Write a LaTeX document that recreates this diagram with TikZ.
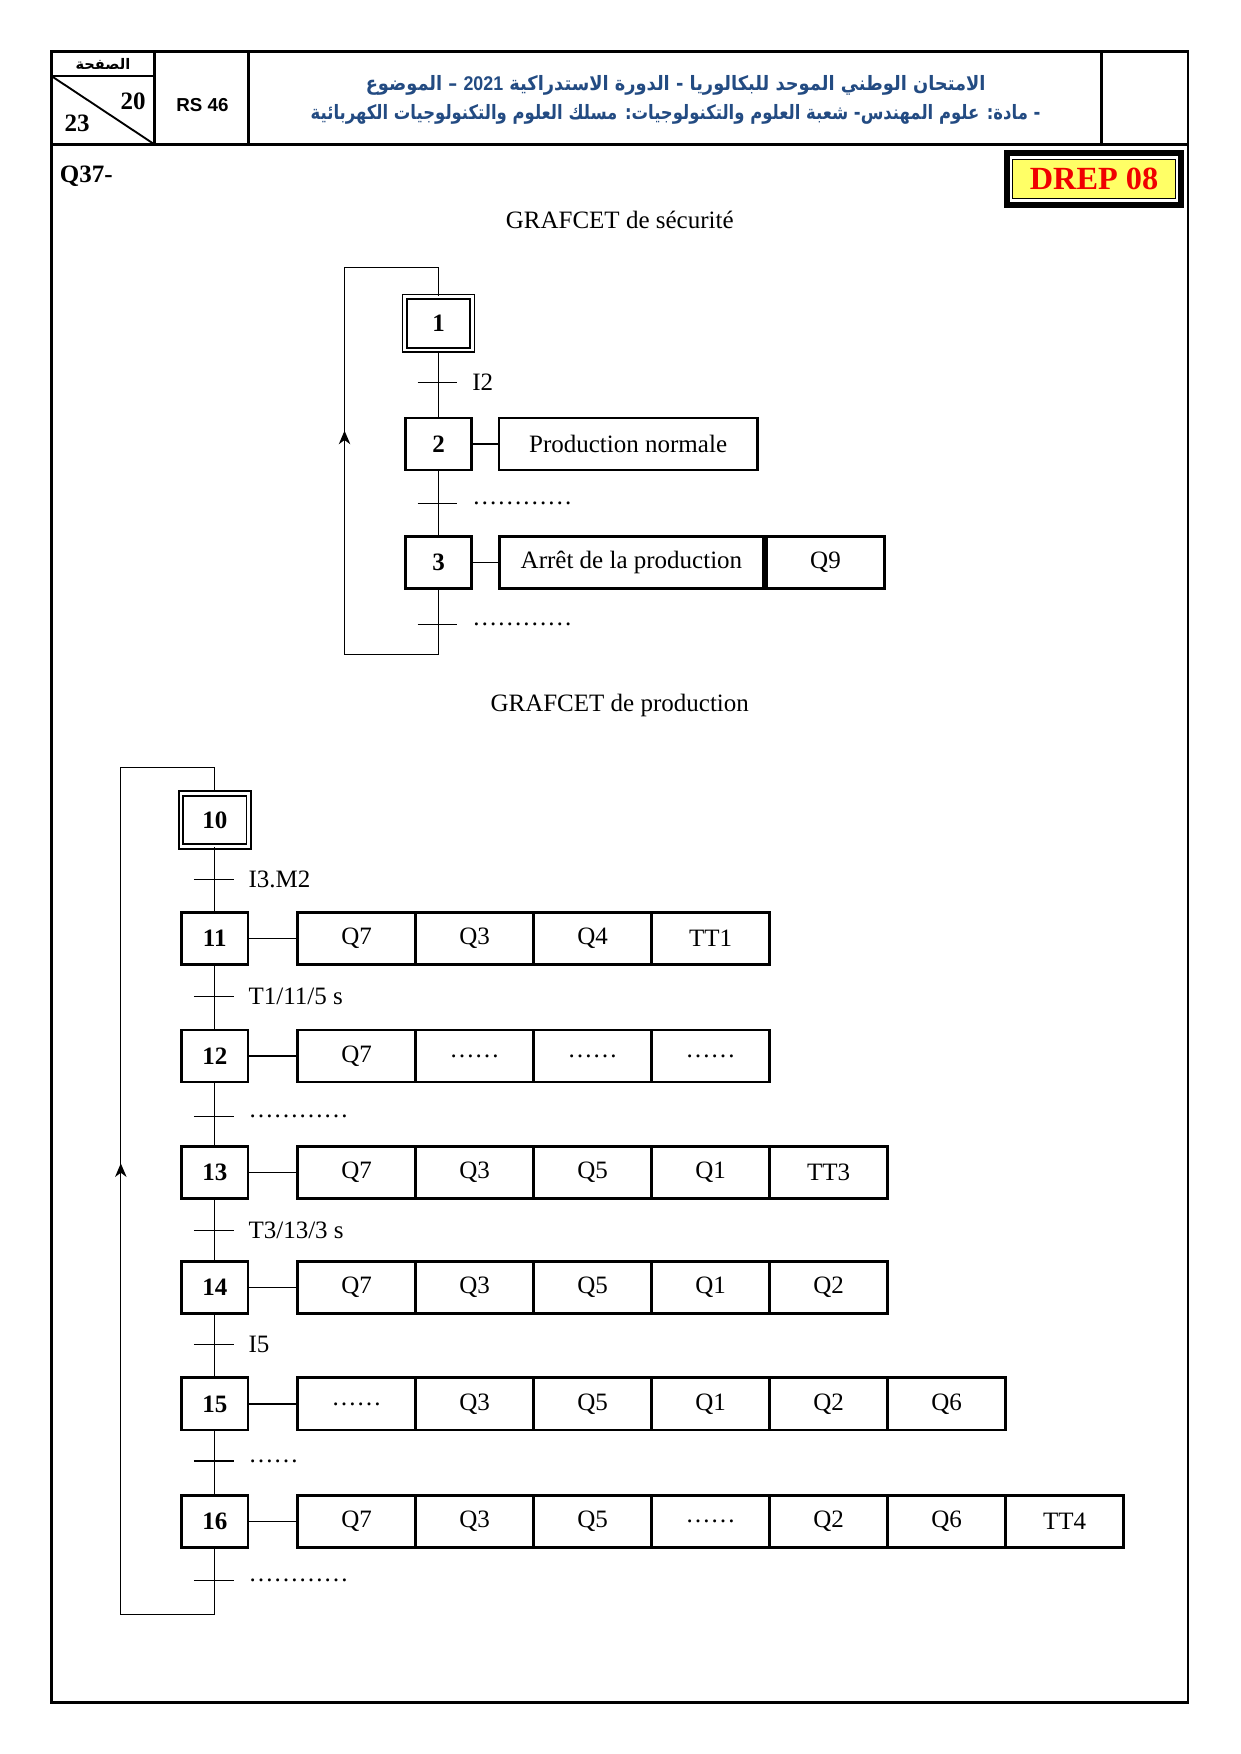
\documentclass[tikz,border=0pt]{standalone}
\usepackage{fontspec}
\setmainfont{Liberation Serif}
\newfontfamily\arabicfont[Script=Arabic]{DejaVu Sans}
\newfontfamily\headsans{Liberation Sans}
\TeXXeTstate=1
\usetikzlibrary{arrows.meta}

\definecolor{entete}{RGB}{35,75,130}
\definecolor{drepjaune}{RGB}{255,255,102}
\definecolor{drepred}{RGB}{240,0,0}

\tikzset{
  etape/.style={draw, line width=1.3pt, minimum width=32pt, minimum height=25pt,
    inner sep=0pt, font=\fontsize{12}{14}\selectfont\bfseries},
  etapeinit/.style={etape, double, double distance=1.2pt, line width=0.9pt,
    minimum width=32.5pt, minimum height=25.5pt},
  action/.style={draw, line width=1.3pt, minimum width=56.6pt, minimum height=25pt,
    inner sep=0pt, font=\fontsize{12}{14}\selectfont},
  recept/.style={anchor=west, inner sep=0pt, font=\fontsize{12}{14}\selectfont},
  titre/.style={font=\fontsize{12}{14}\selectfont},
  lien/.style={line width=0.6pt},
  boucle/.style={lien, -{Stealth[length=6.5pt, width=5.5pt, inset=2pt]}},
  cadre/.style={line width=1.4pt}
}

\begin{document}
\begin{tikzpicture}[x=0.5368pt, y=-0.5368pt]
  \useasboundingbox (0,0) rectangle (1109,1568);

  % cadre de la page et en-tete
  \draw[cadre] (46,46) rectangle (1062,1522);
  \draw[cadre] (46,129) -- (1062,129);
  \foreach \x in {138, 222, 985}
    \draw[cadre] (\x,46) -- (\x,129);
  \draw[line width=1.1pt] (46,68) -- (138,68);
  \draw[line width=0.9pt] (46,68) -- (138,129);

  \node[font=\arabicfont\bfseries\fontsize{7}{8}\selectfont] (page) at (92,57) {\beginR الصفحة\endR};
  \node[font=\fontsize{12}{14}\selectfont\bfseries] (p20) at (119,91) {20};
  \node[font=\fontsize{12}{14}\selectfont\bfseries] (p23) at (69,110) {23};
  \node[font=\headsans\bfseries\fontsize{9}{11}\selectfont] (rs) at (181,94) {RS 46};

  \node[text=entete, font=\arabicfont\bfseries\fontsize{9.5}{11}\selectfont] (h1) at (604,76)
    {\scalebox{0.9}[1]{\beginR الامتحان الوطني الموحد للبكالوريا - الدورة الاستدراكية \beginL{\headsans 2021}\endL{} – الموضوع\endR}};
  \node[text=entete, font=\arabicfont\bfseries\fontsize{9.5}{11}\selectfont] (h2) at (604,102)
    {\scalebox{0.83}[1]{\beginR - مادة: علوم المهندس- شعبة العلوم والتكنولوجيات: مسلك العلوم والتكنولوجيات الكهربائية\endR}};

  \node[anchor=west, font=\fontsize{12}{14}\selectfont\bfseries] (q37) at (47,158) {Q37-};

  \draw[line width=2.8pt] (900,137) rectangle (1056,183);
  \node[fill=drepjaune, draw, line width=0.5pt, minimum width=78pt, minimum height=19pt,
    text=drepred, font=\fontsize{15.5}{16}\selectfont\bfseries] (drep) at (978,160) {DREP 08};

  % GRAFCET de securite
  \node[titre] (tsec) at (554,197) {GRAFCET de sécurité};

  \node[etapeinit] (e1) at (392,289) {1};
  \node[etape] (e2) at (392,397) {2};
  \node[etape] (e3) at (392,503) {3};

  \node[action, minimum width=124pt] (a2) at (561.5,397) {Production normale};
  \node[action, minimum width=127pt] (a3) at (564.5,503) {Arrêt de la production};
  \node[action, anchor=west] (a3q) at (a3.east) {Q9};
  \draw[lien] (e2) -- (a2);
  \draw[lien] (e3) -- (a3);

  \draw[lien] (e1) -- (e2);
  \draw[lien] (e2) -- (e3);

  \foreach \n/\y/\txt in {1/342/I2, 2/450/…………, 3/558/…………} {
    \coordinate (t\n) at (392,\y);
    \draw[lien] ([xshift=-10pt]t\n) -- ([xshift=9pt]t\n);
    \node[recept] (r\n) at ([xshift=16pt]t\n) {\txt};
  }

  \coordinate (b1) at (392,585);
  \coordinate (b2) at (308,585);
  \coordinate (b3) at (308,239);
  \coordinate (b4) at (392,239);
  \coordinate (f1) at (308,385);
  \draw[lien] (e3) -- (b1) -- (b2) -- (b3) -- (b4) -- (e1);
  \draw[boucle] (b2) -- (f1);

  % GRAFCET de production
  \node[titre] (tprod) at (554,631) {GRAFCET de production};

  \node[etapeinit] (s10) at (192,733) {10};
  \foreach \n/\y in {11/839, 12/944, 13/1048, 14/1151, 15/1255, 16/1360}
    \node[etape] (s\n) at (192,\y) {\n};

  \foreach \n/\y/\acts in {11/839/{Q7,Q3,Q4,TT1},
                          12/944/{Q7,……,……,……},
                          13/1048/{Q7,Q3,Q5,Q1,TT3},
                          14/1151/{Q7,Q3,Q5,Q1,Q2},
                          15/1255/{……,Q3,Q5,Q1,Q2,Q6},
                          16/1360/{Q7,Q3,Q5,……,Q2,Q6,TT4}} {
    \foreach \a [count=\i] in \acts
      \node[action] (a\n-\i) at ({318.75+(\i-1)*105.5},\y) {\a};
    \draw[lien] (s\n) -- (a\n-1);
  }

  \foreach \m/\n in {10/11, 11/12, 12/13, 13/14, 14/15, 15/16}
    \draw[lien] (s\m) -- (s\n);

  \foreach \n/\y/\txt in {10/786/I3.M2, 11/891/{T1/11/5 s}, 12/998/…………,
                          13/1100/{T3/13/3 s}, 14/1202/I5, 15/1306/……, 16/1413/…………} {
    \coordinate (t\n) at (192,\y);
    \draw[lien] ([xshift=-10pt]t\n) -- ([xshift=9pt]t\n);
    \node[recept] (r\n) at ([xshift=16pt]t\n) {\txt};
  }

  \coordinate (c1) at (192,1443);
  \coordinate (c2) at (108,1443);
  \coordinate (c3) at (108,686);
  \coordinate (c4) at (192,686);
  \coordinate (f2) at (108,1040);
  \draw[lien] (s16) -- (c1) -- (c2) -- (c3) -- (c4) -- (s10);
  \draw[boucle] (c2) -- (f2);
\end{tikzpicture}
\end{document}
